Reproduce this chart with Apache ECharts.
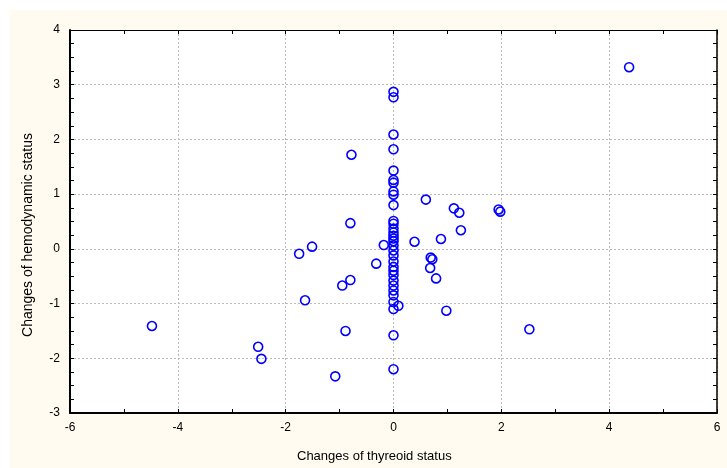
<!DOCTYPE html>
<html>
<head>
<meta charset="utf-8">
<script src="https://cdn.jsdelivr.net/npm/echarts@6/dist/echarts.min.js"></script>
<style>
html,body{margin:0;padding:0;background:#fff;}
#c{width:727px;height:468px;}
</style>
</head>
<body>
<div id="c"></div>
<script>
// Points off the x = 0 column
const xOther = [4.37, -0.78, 0.60, 1.12, 1.22, 1.95, 1.98, -0.80, 1.25, 0.39, 0.88, -0.18, -1.51, -1.75, -0.32, 0.69, 0.72, 0.68, 0.79, -0.80, -0.95, -1.64, 0.09, 0.98, -4.48, -0.89, 2.52, -2.51, -2.45, -1.08];
const yOther = [3.32, 1.72, 0.90, 0.74, 0.66, 0.72, 0.68, 0.47, 0.34, 0.13, 0.18, 0.07, 0.04, -0.09, -0.27, -0.16, -0.19, -0.35, -0.54, -0.57, -0.67, -0.94, -1.04, -1.13, -1.41, -1.50, -1.47, -1.79, -2.01, -2.33];
// Points at x = 0
const yZero = [2.87, 2.77, 2.09, 1.82, 1.43, 1.26, 1.21, 1.05, 0.99, 0.80, 0.51, 0.46, 0.37, 0.30, 0.24, 0.19, 0.14, 0.06, -0.03, -0.12, -0.23, -0.33, -0.40, -0.48, -0.58, -0.67, -0.76, -0.85, -0.97, -1.10, -1.58, -2.20];
const xTicks = [-6, -4, -2, 0, 2, 4, 6];
const yTicks = [-3, -2, -1, 0, 1, 2, 3, 4];
const xTitle = 'Changes of thyreoid status';
const yTitle = 'Changes of hemodynamic status';

const data = xOther.map((x, i) => [x, yOther[i]]).concat(yZero.map(y => [0, y]));

const chart = echarts.init(document.getElementById('c'), null, {renderer: 'canvas'});
const font = 'Liberation Sans, Arial, sans-serif';
const baseX = {
  type: 'value', min: xTicks[0], max: xTicks[xTicks.length - 1], interval: 2,
  axisLine: {show: true, onZero: false, lineStyle: {color: '#000', width: 2}},
  axisTick: {show: true, inside: true, length: 4, lineStyle: {color: '#000', width: 1}},
  minorTick: {show: true, splitNumber: 2, length: 4, lineStyle: {color: '#000', width: 1}},
  splitLine: {show: false}
};
const baseY = {
  type: 'value', min: yTicks[0], max: yTicks[yTicks.length - 1], interval: 1,
  axisLine: {show: true, onZero: false, lineStyle: {color: '#000', width: 2}},
  axisTick: {show: true, inside: true, length: 4, lineStyle: {color: '#000', width: 1}},
  minorTick: {show: true, splitNumber: 4, length: 4, lineStyle: {color: '#000', width: 1}},
  splitLine: {show: false}
};
chart.setOption({
  backgroundColor: '#fff',
  animation: false,
  graphic: [
    {type: 'rect', z: -100, silent: true, shape: {x: 10, y: 10, width: 717, height: 458}, style: {fill: '#FFFBF0'}},
    {type: 'text', z: 10, left: 297, top: 450, style: {text: xTitle, font: '13px ' + font, fill: '#000'}},
    {type: 'text', z: 10, x: 28, y: 235, rotation: Math.PI / 2, style: {text: yTitle, font: '14px ' + font, fill: '#000', align: 'center', verticalAlign: 'middle'}}
  ],
  grid: {left: 70, top: 30, width: 647, height: 383, show: true, backgroundColor: '#fff', borderWidth: 0, containLabel: false},
  xAxis: [
    Object.assign({}, baseX, {
      position: 'bottom',
      axisLabel: {show: true, color: '#000', fontSize: 12, fontFamily: font, margin: 9},
      splitLine: {show: true, lineStyle: {color: '#bbb', type: [2, 2], width: 1}}
    }),
    Object.assign({}, baseX, {
      position: 'top',
      axisLine: {show: true, onZero: false, lineStyle: {color: '#000', width: 1}},
      axisLabel: {show: false}
    })
  ],
  yAxis: [
    Object.assign({}, baseY, {
      position: 'left',
      axisLabel: {show: true, color: '#000', fontSize: 12, fontFamily: font, margin: 10},
      splitLine: {show: true, lineStyle: {color: '#bbb', type: [2, 2], width: 1}}
    }),
    Object.assign({}, baseY, {
      position: 'right',
      axisLine: {show: true, onZero: false, lineStyle: {color: '#000', width: 1.5}},
      axisLabel: {show: false}
    })
  ],
  series: [{
    type: 'scatter',
    xAxisIndex: 0, yAxisIndex: 0,
    symbol: 'circle', symbolSize: 9,
    itemStyle: {color: 'rgba(0,0,0,0)', borderColor: '#0000ff', borderWidth: 1.6, opacity: 1},
    data: data
  }]
});
</script>
</body>
</html>
